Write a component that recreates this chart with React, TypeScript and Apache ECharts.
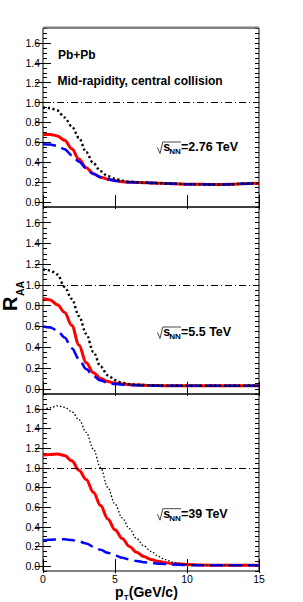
import React, { useEffect, useRef } from "react";
import * as echarts from "echarts";

// transverse momentum grid (GeV/c)
const pT = [0, 0.5, 1, 1.5, 2, 2.5, 3, 3.5, 4, 4.5, 5, 5.5, 6, 6.5, 7, 7.5, 8, 8.5, 9, 10, 11, 12, 13, 14, 15];

// sqrt(sNN) = 2.76 TeV
const e276Black = [0.95, 0.945, 0.92, 0.85, 0.76, 0.645, 0.5, 0.39, 0.31, 0.26, 0.235, 0.215, 0.205, 0.2, 0.195, 0.192, 0.19, 0.187, 0.185, 0.18, 0.178, 0.176, 0.178, 0.185, 0.19];
const e276Red = [0.68, 0.68, 0.665, 0.62, 0.535, 0.43, 0.345, 0.285, 0.25, 0.23, 0.215, 0.205, 0.2, 0.197, 0.195, 0.192, 0.19, 0.187, 0.185, 0.18, 0.178, 0.176, 0.178, 0.185, 0.19];
const e276Blue = [0.58, 0.578, 0.565, 0.53, 0.47, 0.405, 0.34, 0.283, 0.25, 0.228, 0.215, 0.205, 0.2, 0.197, 0.195, 0.192, 0.19, 0.187, 0.185, 0.18, 0.178, 0.176, 0.178, 0.185, 0.19];

// sqrt(sNN) = 5.5 TeV
const e55Black = [1.15, 1.14, 1.1, 0.98, 0.865, 0.7, 0.53, 0.355, 0.215, 0.13, 0.085, 0.057, 0.045, 0.04, 0.036, 0.034, 0.032, 0.031, 0.03, 0.03, 0.03, 0.03, 0.03, 0.03, 0.03];
const e55Red = [0.87, 0.855, 0.81, 0.735, 0.61, 0.42, 0.25, 0.155, 0.1, 0.07, 0.055, 0.046, 0.04, 0.037, 0.034, 0.032, 0.031, 0.03, 0.03, 0.03, 0.03, 0.03, 0.03, 0.03, 0.03];
const e55Blue = [0.6, 0.59, 0.56, 0.495, 0.39, 0.285, 0.19, 0.122, 0.08, 0.057, 0.046, 0.04, 0.036, 0.034, 0.032, 0.031, 0.03, 0.03, 0.03, 0.03, 0.03, 0.03, 0.03, 0.03, 0.03];

// sqrt(sNN) = 39 TeV
const e39Black = [1.59, 1.61, 1.63, 1.615, 1.57, 1.49, 1.36, 1.19, 1.0, 0.8, 0.63, 0.49, 0.38, 0.28, 0.205, 0.15, 0.1, 0.065, 0.04, 0.015, 0.01, 0.008, 0.008, 0.008, 0.008];
const e39Red = [1.13, 1.135, 1.14, 1.125, 1.07, 0.975, 0.88, 0.75, 0.615, 0.48, 0.37, 0.28, 0.2, 0.14, 0.097, 0.068, 0.048, 0.035, 0.025, 0.015, 0.01, 0.008, 0.008, 0.008, 0.008];
const e39Blue = [0.26, 0.267, 0.272, 0.272, 0.265, 0.25, 0.23, 0.197, 0.165, 0.135, 0.107, 0.085, 0.068, 0.052, 0.04, 0.032, 0.025, 0.02, 0.015, 0.01, 0.008, 0.008, 0.008, 0.008, 0.008];

const energyLabels = ["=2.76 TeV", "=5.5 TeV", "=39 TeV"];
const yTicks = [0, 0.2, 0.4, 0.6, 0.8, 1.0, 1.2, 1.4, 1.6];
const refLevel = 1.0;
const headerLines = ["Pb+Pb", "Mid-rapidity, central collision"];

const FONT = "'Liberation Sans', Arial, Helvetica, sans-serif";

export default function App() {
  const ref = useRef<HTMLDivElement>(null);

  useEffect(() => {
    if (!ref.current) return;
    const chart = echarts.init(ref.current, undefined, { renderer: "svg" });

    const panels = [
      { black: e276Black, red: e276Red, blue: e276Blue, dotW: 2.4, dot: [2.2, 2.6] },
      { black: e55Black, red: e55Red, blue: e55Blue, dotW: 2.4, dot: [2.2, 2.6] },
      { black: e39Black, red: e39Red, blue: e39Blue, dotW: 1.3, dot: [1.5, 2] },
    ];
    const gridPos = [
      { top: 28, height: 179 },
      { top: 207, height: 187 },
      { top: 394, height: 177 },
    ];
    const annDy = [0, 185, 366.7];

    const grid: any[] = [];
    const xAxis: any[] = [];
    const yAxis: any[] = [];
    const series: any[] = [];
    const graphic: any[] = [];

    panels.forEach((p, i) => {
      grid.push({
        left: 43,
        right: 44,
        top: gridPos[i].top,
        height: gridPos[i].height,
        show: true,
        borderColor: "#000",
        borderWidth: 1,
        containLabel: false,
      });
      ["bottom", "top"].forEach((pos, j) => {
        xAxis.push({
          type: "value",
          gridIndex: i,
          position: pos,
          min: 0,
          max: 15,
          interval: 5,
          axisLine: { show: false },
          splitLine: { show: false },
          axisTick: { show: true, inside: true, length: 7, lineStyle: { color: "#000", width: 1 } },
          axisLabel: {
            show: i === 2 && j === 0,
            margin: 2.5,
            fontSize: 10.5,
            color: "#000",
            fontFamily: FONT,
          },
        });
      });
      ["left", "right"].forEach((pos, j) => {
        yAxis.push({
          type: "value",
          gridIndex: i,
          position: pos,
          offset: 0,
          min: -0.05,
          max: 1.75,
          axisLine: { show: false },
          splitLine: { show: false },
          axisTick: { show: true, inside: true, length: 8, customValues: yTicks, lineStyle: { color: "#000", width: 1 } },
          axisLabel: {
            show: j === 0,
            customValues: yTicks,
            formatter: (v: number) => v.toFixed(1),
            margin: 3,
            fontSize: 10.5,
            color: "#000",
            fontFamily: FONT,
          },
        });
      });
      ["left", "right"].forEach((pos) => {
        yAxis.push({
          type: "value",
          gridIndex: i,
          position: pos,
          offset: 0,
          min: -0.05,
          max: 1.75,
          interval: 0.05,
          axisLine: { show: false },
          splitLine: { show: false },
          axisTick: { show: true, inside: true, length: 4, lineStyle: { color: "#000", width: 1 } },
          axisLabel: { show: false },
        });
      });

      const xi = 2 * i;
      const yi = 4 * i;
      const mk = (arr: number[]) => pT.map((x, k) => [x, arr[k]]);
      series.push({
        type: "line",
        xAxisIndex: xi,
        yAxisIndex: yi,
        data: mk(p.red),
        smooth: 0.35,
        smoothMonotone: "x",
        showSymbol: false,
        lineStyle: { color: "#ff0000", width: 3 },
        markLine: {
          silent: true,
          symbol: "none",
          label: { show: false },
          lineStyle: { color: "#000", width: 1, type: [7, 3, 1, 3] },
          data: [{ yAxis: refLevel }],
        },
        z: 2,
      });
      series.push({
        type: "line",
        xAxisIndex: xi,
        yAxisIndex: yi,
        data: mk(p.blue),
        smooth: 0.35,
        smoothMonotone: "x",
        showSymbol: false,
        lineStyle: { color: "#0000ff", width: 2.5, type: [13, 6] },
        z: 3,
      });
      series.push({
        type: "line",
        xAxisIndex: xi,
        yAxisIndex: yi,
        data: mk(p.black),
        smooth: 0.35,
        smoothMonotone: "x",
        showSymbol: false,
        lineStyle: { color: "#000", width: p.dotW, type: p.dot },
        z: 4,
      });

      // sqrt(s_NN) annotation
      const dy = annDy[i];
      graphic.push({
        type: "polyline",
        z: 100,
        shape: { points: [[157.5, 147.5 + dy], [160, 153.5 + dy], [162.8, 142 + dy], [181, 142 + dy]] },
        style: { stroke: "#333", lineWidth: 0.9, fill: null },
      });
      graphic.push({
        type: "text",
        z: 100,
        x: 163.3,
        y: 147.3 + dy,
        style: { text: "s", font: `bold 12.5px ${FONT}`, fill: "#000", verticalAlign: "middle", align: "left" },
      });
      graphic.push({
        type: "text",
        z: 100,
        x: 169.3,
        y: 151.3 + dy,
        style: { text: "NN", font: `bold 8px ${FONT}`, fill: "#000", verticalAlign: "middle", align: "left" },
      });
      graphic.push({
        type: "text",
        z: 100,
        x: 181,
        y: 147.3 + dy,
        style: { text: energyLabels[i], font: `bold 12.5px ${FONT}`, fill: "#000", verticalAlign: "middle", align: "left" },
      });
    });

    // top frame of first pad (grey)
    graphic.push({
      type: "rect",
      z: 101,
      shape: { x: 43, y: 26.5, width: 216, height: 2 },
      style: { fill: "#808080" },
    });
    // header texts
    graphic.push({
      type: "text",
      z: 100,
      x: 58,
      y: 55.3,
      style: { text: headerLines[0], font: `bold 12px ${FONT}`, fill: "#000", verticalAlign: "middle" },
    });
    graphic.push({
      type: "text",
      z: 100,
      x: 57.5,
      y: 80.8,
      style: { text: headerLines[1], font: `bold 12px ${FONT}`, fill: "#000", verticalAlign: "middle" },
    });
    // y title R_AA (rotated)
    graphic.push({
      type: "group",
      x: 17,
      y: 311,
      rotation: Math.PI / 2,
      z: 100,
      children: [
        {
          type: "text",
          x: 0,
          y: -7,
          style: { text: "R", font: `bold 20px ${FONT}`, fill: "#000", verticalAlign: "middle", align: "left" },
        },
        {
          type: "text",
          x: 15,
          y: 2.8,
          style: { text: "AA", font: `bold 10.5px ${FONT}`, fill: "#000", verticalAlign: "middle", align: "left" },
        },
      ],
    });
    // x title p_T(GeV/c)
    graphic.push({
      type: "text",
      z: 100,
      x: 115,
      y: 591.6,
      style: { text: "p", font: `bold 14px ${FONT}`, fill: "#000", verticalAlign: "middle" },
    });
    graphic.push({
      type: "text",
      z: 100,
      x: 123.8,
      y: 597.3,
      style: { text: "T", font: `bold 8px ${FONT}`, fill: "#000", verticalAlign: "middle" },
    });
    graphic.push({
      type: "text",
      z: 100,
      x: 128.8,
      y: 591.6,
      style: { text: "(GeV/c)", font: `bold 14px ${FONT}`, fill: "#000", verticalAlign: "middle" },
    });

    chart.setOption({
      animation: false,
      backgroundColor: "#fff",
      grid,
      xAxis,
      yAxis,
      series,
      graphic,
    });

    return () => chart.dispose();
  }, []);

  return (
    <div
      ref={ref}
      style={{ position: "absolute", left: 0, top: 0, width: 303, height: 602 }}
    />
  );
}
